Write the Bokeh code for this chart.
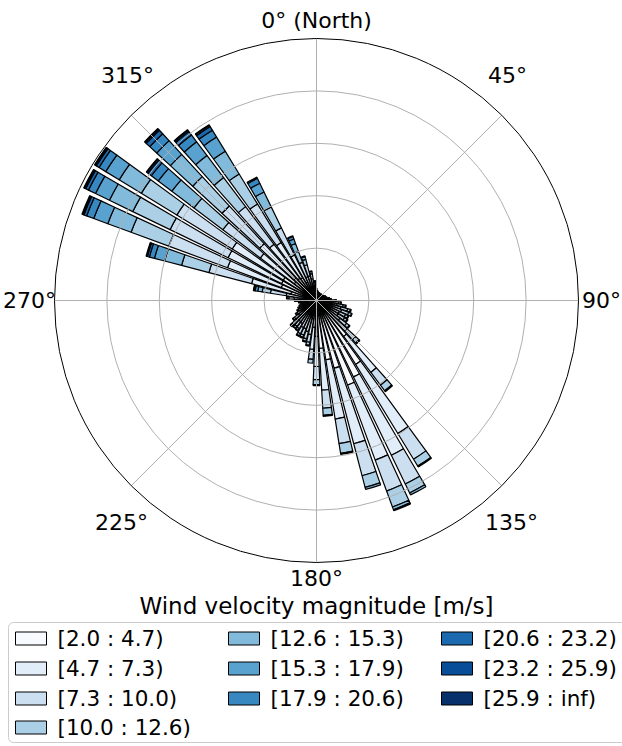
import numpy as np
from bokeh.plotting import figure
from bokeh.models import Range1d, ColumnDataSource
from bokeh.core.properties import value
from bokeh.embed import file_html
from bokeh.resources import INLINE

# ---------------- data (frequency in % per direction sector, per speed bin) -------------
n_sectors = 64
directions = [i * 360.0 / 64 for i in range(64)]  # sector centres, degrees clockwise from North

speed_labels = ["[2.0 : 4.7)", "[4.7 : 7.3)", "[7.3 : 10.0)", "[10.0 : 12.6)",
                "[12.6 : 15.3)", "[15.3 : 17.9)", "[17.9 : 20.6)", "[20.6 : 23.2)",
                "[23.2 : 25.9)", "[25.9 : inf)"]

bin_2_0 = [.21, .17, .15, .14, .14, .12, .14, .12, .14, .14, .15, .17, .17, .19, .23, .26,
           .27, .33, .40, .48, .51, .48, .49, .56, .79,
           1.72, 2.86, 3.24, 3.44, 2.67, 2.29, 1.83, 1.37, 1.03,
           .70, .66, .61, .61, .55, .54, .55, .46, .38, .34, .30, .28, .24, .28, .34, .46,
           .49, 1.01, 1.43, 1.48, 1.49, 1.06, 1.16, 1.06, 1.02, .78, .39, .44, .46, .32]
bin_4_7 = [.16, .13, .12, .11, .11, .09, .11, .09, .11, .11, .12, .13, .13, .15, .18, .20,
           .27, .33, .40, .48, .51, .48, .49, .56, .79,
           1.72, 3.09, 3.32, 3.05, 2.98, 2.29, 1.60, 1.15, .84,
           .62, .57, .54, .54, .48, .47, .48, .40, .33, .29, .27, .24, .21, .24, .29, .40,
           .68, 1.55, 2.19, 2.27, 2.28, 1.63, 1.79, 1.63, 1.57, 1.15, .58, .53, .38, .25]
bin_7_3 = [.07, .06, .05, .05, .05, .04, .05, .04, .05, .05, .05, .06, .06, .06, .08, .08,
           .15, .19, .23, .27, .29, .27, .28, .32, .45,
           .61, 1.15, 1.22, 1.26, 1.26, .95, .69, .50, .38,
           .30, .28, .26, .26, .23, .23, .23, .20, .16, .14, .13, .12, .10, .12, .14, .20,
           .61, 1.68, 2.39, 2.46, 2.48, 1.79, 1.96, 1.80, 1.73, 1.15, .58, .44, .20, .13]
bin_10_0 = [.02, .02, .02, .01, .01, .02, .01, .02, .01, .01, .02, .02, .02, .02, .01, .03,
            .06, .08, .09, .11, .12, .11, .11, .13, .18,
            .27, .31, .38, .65, .46, .38, .27, .19, .15,
            .11, .10, .09, .09, .08, .08, .08, .07, .06, .05, .05, .04, .04, .04, .05, .07,
            .32, 1.08, 1.53, 1.58, 1.59, 1.38, 1.52, 1.39, 1.34, .89, .45, .21, .08, .05]
bin_12_6 = [0, 0, 0, 0, 0, 0, 0, 0, 0, 0, 0, 0, 0, 0, 0, 0,
            .01, .02, .03, .03, .02, .03, .04, .03, .04,
            .04, .04, .08, .11, .08, .04, .04, .04, 0,
            .03, .03, .03, .03, .03, .02, .03, .02, .02, .02, .01, .01, .02, .01, .02, .02,
            .17, .67, .95, .99, .99, 1.06, 1.16, 1.06, 1.02, .63, .32, .11, .03, .01]
bin_15_3 = [0, 0, 0, 0, 0, 0, 0, 0, 0, 0, 0, 0, 0, 0, 0, 0,
            0, 0, 0, 0, 0, 0, 0, 0, 0,
            0, 0, 0, .04, 0, 0, 0, 0, 0,
            0, 0, 0, 0, 0, 0, 0, 0, 0, 0, 0, 0, 0, 0, 0, 0,
            .10, .40, .57, .59, .60, .65, .71, .65, .63, .37, .18, .03, 0, 0]
bin_17_9 = [0, 0, 0, 0, 0, 0, 0, 0, 0, 0, 0, 0, 0, 0, 0, 0,
            0, 0, 0, 0, 0, 0, 0, 0, 0,
            0, 0, 0, 0, 0, 0, 0, 0, 0,
            0, 0, 0, 0, 0, 0, 0, 0, 0, 0, 0, 0, 0, 0, 0, 0,
            .05, .20, .29, .30, .30, .33, .36, .33, .31, .21, .11, 0, 0, 0]
bin_20_6 = [0, 0, 0, 0, 0, 0, 0, 0, 0, 0, 0, 0, 0, 0, 0, 0,
            0, 0, 0, 0, 0, 0, 0, 0, 0,
            0, 0, 0, 0, 0, 0, 0, 0, 0,
            0, 0, 0, 0, 0, 0, 0, 0, 0, 0, 0, 0, 0, 0, 0, 0,
            .02, .08, .11, .12, .12, .16, .18, .16, .16, .05, .02, 0, 0, 0]
bin_23_2 = [0, 0, 0, 0, 0, 0, 0, 0, 0, 0, 0, 0, 0, 0, 0, 0,
            0, 0, 0, 0, 0, 0, 0, 0, 0,
            0, 0, 0, 0, 0, 0, 0, 0, 0,
            0, 0, 0, 0, 0, 0, 0, 0, 0, 0, 0, 0, 0, 0, 0, 0,
            0, .03, .05, .05, .05, .06, .06, .06, .06, 0, 0, 0, 0, 0]
bin_25_9 = [0, 0, 0, 0, 0, 0, 0, 0, 0, 0, 0, 0, 0, 0, 0, 0,
            0, 0, 0, 0, 0, 0, 0, 0, 0,
            0, 0, 0, 0, 0, 0, 0, 0, 0,
            0, 0, 0, 0, 0, 0, 0, 0, 0, 0, 0, 0, 0, 0, 0, 0,
            0, .02, .03, .03, .03, .02, .03, .03, .02, 0, 0, 0, 0, 0]

speed_bins = [bin_2_0, bin_4_7, bin_7_3, bin_10_0, bin_12_6,
              bin_15_3, bin_17_9, bin_20_6, bin_23_2, bin_25_9]

colors = ["#f7fbff", "#e1edf8", "#cbdff1", "#abd0e6", "#82badb",
          "#59a2cf", "#3787c0", "#1b6aaf", "#084d97", "#08306b"]

angle_labels = ["0° (North)", "45°", "90°", "135°", "180°", "225°", "270°", "315°"]

# ---------------- layout -------------
W, H = 622, 746
CX, CY = 316, 300        # centre of the rose, in page pixels
R_PX = 262               # outer circle radius in pixels
R_MAX = 10.0             # radial value at the outer circle
S = R_PX / R_MAX
OPENING = 0.82
FONT = value("DejaVu Sans")


def X(px):
    return (px - CX) / S


def Y(py):
    return (CY - py) / S


p = figure(width=W, height=H, x_range=Range1d(X(0), X(W)), y_range=Range1d(Y(H), Y(0)),
           output_backend="svg", toolbar_location=None, min_border=0,
           x_axis_type=None, y_axis_type=None, outline_line_color=None,
           background_fill_color="white", border_fill_color="white")
p.grid.visible = False

# ---------------- bars -------------
half = 0.5 * OPENING * 360.0 / n_sectors
cum = np.zeros(n_sectors)
for b, vals in enumerate(speed_bins):
    vals = np.asarray(vals, dtype=float)
    m = vals > 0
    d = np.asarray(directions)[m]
    src = ColumnDataSource(dict(
        inner=cum[m], outer=cum[m] + vals[m],
        start=np.radians(90.0 - d - half), end=np.radians(90.0 - d + half)))
    p.annular_wedge(x=0, y=0, inner_radius="inner", outer_radius="outer",
                    start_angle="start", end_angle="end", source=src,
                    fill_color=colors[b], line_color="black", line_width=1.2)
    cum = cum + vals

# ---------------- grid (drawn above bars, as in the reference) -------------
rings = [2, 4, 6, 8]
p.circle(x=[0] * len(rings), y=[0] * len(rings), radius=rings,
         fill_color=None, line_color="#b0b0b0", line_width=1.0)
spokes = np.radians(np.arange(0, 360, 45))
p.segment(x0=np.zeros(8), y0=np.zeros(8), x1=R_MAX * np.sin(spokes), y1=R_MAX * np.cos(spokes),
          line_color="#b0b0b0", line_width=1.0)
p.circle(x=[0], y=[0], radius=[R_MAX], fill_color=None, line_color="black", line_width=1.0)

# ---------------- angle labels -------------
lab_px = [(316, 20), (507, 75), (601, 300), (511, 522), (316, 578), (121, 522), (29, 300), (127, 75)]
p.text(x=[X(a) for a, _ in lab_px], y=[Y(b) for _, b in lab_px], text=angle_labels,
       text_align="center", text_baseline="middle", text_font=FONT,
       text_font_size="22px", text_color="black")

# ---------------- legend -------------
p.text(x=[X(316)], y=[Y(605)], text=["Wind velocity magnitude [m/s]"],
       text_align="center", text_baseline="middle", text_font=FONT,
       text_font_size="23px", text_color="black")
box = p.quad(left=[X(8)], right=[X(640)], top=[Y(622)], bottom=[Y(742)],
             fill_color="white", line_color="#cccccc", line_width=1.0)
try:
    box.glyph.border_radius = 5
except Exception:
    pass

col_x = [15, 228, 441]
row_y = [638, 668, 698, 727]
pos = []
for i in range(len(speed_labels)):
    if i < 4:
        c, r = 0, i
    elif i < 7:
        c, r = 1, i - 4
    else:
        c, r = 2, i - 7
    pos.append((col_x[c], row_y[r]))
sw_w, sw_h = 31, 13
p.rect(x=[X(a + sw_w / 2) for a, _ in pos], y=[Y(b) for _, b in pos],
       width=sw_w / S, height=sw_h / S, fill_color=colors, line_color="black", line_width=1.0)
p.text(x=[X(a + 42) for a, _ in pos], y=[Y(b) for _, b in pos], text=speed_labels,
       text_align="left", text_baseline="middle", text_font=FONT,
       text_font_size="21.5px", text_color="black")

open("out.html", "w").write(file_html(p, INLINE))
